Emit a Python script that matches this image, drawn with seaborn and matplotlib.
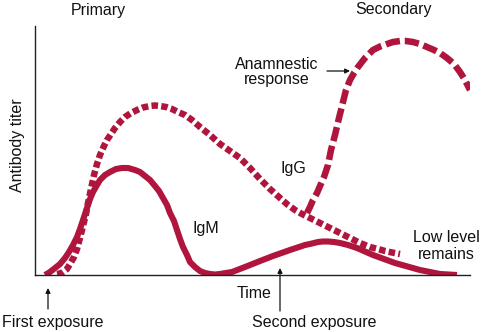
import matplotlib
matplotlib.use("Agg")
import matplotlib.pyplot as plt
import seaborn as sns
import pandas as pd

# ---- data (time units = px from y-axis, titer units = px above baseline) ----
X0, Y0 = 35, 275  # reference frame origin used when reading values

igm_x = [45, 50, 55, 60, 65, 69, 73, 77, 80, 84, 87, 90, 93, 97, 100, 105, 110, 116,
         122, 128, 135, 140, 145, 150, 155, 159, 163, 167, 170, 174, 177, 180, 183,
         187, 190, 195, 200, 205, 210, 215, 220, 226, 232, 245, 260, 273, 290, 305,
         312, 318, 323, 328, 334, 340, 348, 357, 373, 395, 420, 440, 457]
igm_y = [275, 272, 268, 264, 258, 252, 245, 237, 229, 217, 208, 199, 192, 185, 180,
         175, 172, 169, 168, 168, 170, 172, 176, 180, 186, 191, 198, 205, 213, 221,
         230, 239, 247, 255, 262, 267, 271, 273, 274, 274.5, 274, 273, 272, 267, 261,
         256, 250, 245, 243.5, 242, 241.5, 241.5, 242, 243, 245, 248, 255, 263, 270,
         274, 275]

igg_x = [57, 60, 63, 67, 70, 74, 77, 80, 83, 86, 88, 91, 94, 97, 100, 104, 107, 111,
         115, 120, 125, 131, 137, 143, 150, 155, 160, 166, 172, 178, 185, 192, 200,
         210, 220, 230, 240, 250, 260, 270, 280, 288, 295, 302, 310, 320, 330, 340,
         350, 360, 370, 378, 385, 392, 400]
igg_y = [274, 273.5, 272, 269, 264, 257, 249, 238, 226, 214, 203, 189, 175, 164, 155,
         146, 140, 134, 128, 122, 117, 113, 110, 107.5, 106, 105.5, 106, 107, 109, 112,
         115, 120, 127, 135, 144, 151, 158, 168, 179, 189, 198, 205, 210, 214, 218,
         223, 228, 233, 238, 243, 247, 249, 251, 252.5, 254]

sec_x = [307, 310, 313, 317, 320, 324, 328, 331, 335, 339, 343, 346, 350, 354, 358,
         365, 373, 380, 387, 393, 400, 406, 413, 420, 427, 434, 440, 447, 454, 460,
         465, 470]
sec_y = [213, 207, 200, 193, 186, 177, 165, 150, 135, 118, 102, 90, 80, 73, 67, 58,
         50, 46.5, 44, 42, 41, 41, 42, 44, 47, 50, 53, 58, 64, 72, 80, 90]

COLOR = "#B0153D"

def to_df(xs, ys):
    return pd.DataFrame({"time": [x - X0 for x in xs], "titer": [Y0 - y for y in ys]})

sns.set_style("white")
plt.rcParams["font.family"] = ["Liberation Sans", "DejaVu Sans"]

W, H = 482, 332
fig = plt.figure(figsize=(W / 100, H / 100), dpi=100)
ax = fig.add_axes([X0 / W, (H - Y0) / H, (470 - X0) / W, (Y0 - 26) / H])
ax.set_xlim(0, 470 - X0)
ax.set_ylim(0, Y0 - 26)

lw = 4.7
sns.lineplot(data=to_df(igm_x, igm_y), x="time", y="titer", ax=ax, color=COLOR,
             linewidth=4.4, sort=False, estimator=None, solid_capstyle="butt",
             solid_joinstyle="round")
sns.lineplot(data=to_df(igg_x, igg_y), x="time", y="titer", ax=ax, color=COLOR,
             linewidth=lw, sort=False, estimator=None, linestyle=(0, (1, 0.5)))
sns.lineplot(data=to_df(sec_x, sec_y), x="time", y="titer", ax=ax, color=COLOR,
             linewidth=lw, sort=False, estimator=None, linestyle=(0, (2.2, 0.75)))

for s in ["top", "right"]:
    ax.spines[s].set_visible(False)
for s in ["left", "bottom"]:
    ax.spines[s].set_color("#222222")
    ax.spines[s].set_linewidth(1.0)
ax.set_xticks([])
ax.set_yticks([])
ax.set_xlabel("")
ax.set_ylabel("")

FS = 11.5

def P(px, py):
    return (px - X0, Y0 - py)

def txt(px, py, s, **kw):
    ax.text(*P(px, py), s, fontsize=FS, ha="center", va="center", color="#111111",
            clip_on=False, **kw)

txt(98, 10, "Primary")
txt(394, 9, "Secondary")
txt(277, 72, "Anamnestic\nresponse", linespacing=1.05)
txt(293, 168, "IgG")
txt(206, 228, "IgM")
txt(446, 246, "Low level\nremains", linespacing=1.1)
txt(254, 294, "Time")
txt(53, 322, "First exposure")
txt(314, 322, "Second exposure")
txt(18, 145, "Antibody titer", rotation=90)

arrow = dict(arrowstyle="-|>", color="#111111", lw=0.9, mutation_scale=7,
             shrinkA=0, shrinkB=0)
ax.annotate("", xy=P(350, 71), xytext=P(327, 71), arrowprops=arrow, annotation_clip=False)
ax.annotate("", xy=P(48, 288), xytext=P(48, 309), arrowprops=arrow, annotation_clip=False)
ax.annotate("", xy=P(280, 268), xytext=P(280, 311), arrowprops=arrow, annotation_clip=False)

fig.savefig("out.png", dpi=100)
